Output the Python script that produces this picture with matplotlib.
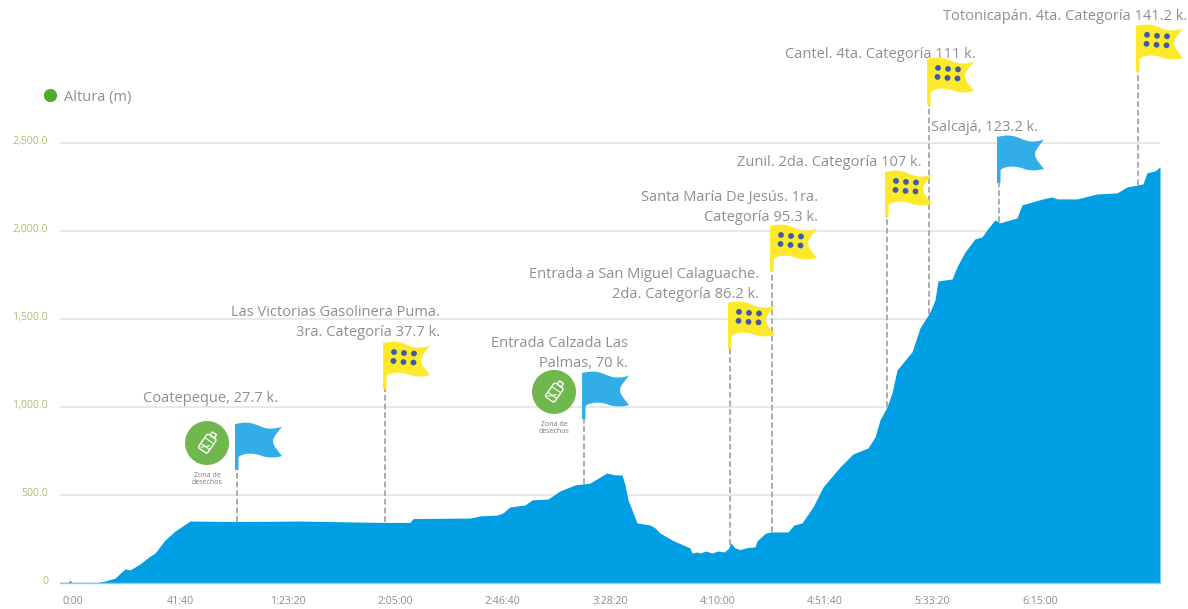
import numpy as np
import matplotlib
matplotlib.use("Agg")
import matplotlib.pyplot as plt
from matplotlib.path import Path
from matplotlib.patches import PathPatch, Circle, FancyBboxPatch, Rectangle
from matplotlib.lines import Line2D
from matplotlib.transforms import Affine2D, ScaledTranslation

# ---------- data ----------
profile_t = [-291, -105, -58, -12, 523, 756, 988, 1221, 1337, 1570, 1802, 1919, 2151, 2384, 2733,
             3779, 5291, 6453, 7267, 7849, 7919, 9244, 9477, 9872, 10011, 10174, 10523, 10686, 11058,
             11337, 11686, 12035, 12268, 12431, 12617, 12780, 12849, 12919, 13012, 13128, 13430,
             13547, 13663, 13942, 14361, 14408, 14524, 14593, 14733, 14872, 15012, 15151, 15244,
             15314, 15407, 15523, 15709, 15872, 15919, 16105, 16221, 16640, 16779, 16965, 17221,
             17453, 17849, 18151, 18500, 18663, 18779, 18942, 19058, 19175, 19523, 19709, 19942,
             20058, 20128, 20453, 20570, 20756, 20988, 21151, 21267, 21453, 21570, 21965, 22081,
             22570, 22779, 22895, 23360, 23826, 24291, 24523, 24895, 24988, 25174, 25291]
profile_h = [0, 0, 17, 0, 0, 11, 28, 80, 74, 108, 153, 170, 244, 295, 352,
             349, 352, 347, 344, 344, 366, 369, 381, 386, 398, 432, 443, 472, 477,
             523, 557, 568, 602, 625, 614, 614, 557, 472, 415, 341, 330,
             313, 284, 244, 199, 170, 176, 170, 182, 170, 182, 176, 193,
             227, 199, 190, 202, 205, 239, 281, 290, 290, 330, 341, 432,
             545, 659, 733, 767, 830, 926, 1000, 1080, 1210, 1313, 1449, 1540,
             1608, 1716, 1727, 1796, 1881, 1955, 1966, 2006, 2063, 2046, 2074, 2148,
             2182, 2193, 2182, 2182, 2210, 2216, 2250, 2267, 2330, 2341, 2364]

x_ticks = [0, 2500, 5000, 7500, 10000, 12500, 15000, 17500, 20000, 22500]
x_labels = ["0:00", "41:40", "1:23:20", "2:05:00", "2:46:40", "3:28:20", "4:10:00", "4:51:40", "5:33:20", "6:15:00"]
y_ticks = [0, 500, 1000, 1500, 2000, 2500]
y_labels = ["0", "500.0", "1,000.0", "1,500.0", "2,000.0", "2,500.0"]

flag_t = [3826, 7267, 11896, 15291, 16268, 18942, 19919, 21547, 24780]
flag_pole_bottom = [642, 1102, 932, 1330, 1767, 2074, 2716, 2273, 2904]
flag_kind = ["blue", "yellow", "blue", "yellow", "yellow", "yellow", "yellow", "blue", "yellow"]
waste_zone_flags = [0, 2]

label_text = ["Coatepeque, 27.7 k.",
              "Las Victorias Gasolinera Puma.\n3ra. Categoría 37.7 k.",
              "Entrada Calzada Las\nPalmas, 70 k.",
              "Entrada a San Miguel Calaguache.\n2da. Categoría 86.2 k.",
              "Santa María De Jesús. 1ra.\nCategoría 95.3 k.",
              "Zunil. 2da. Categoría 107 k.",
              "Cantel. 4ta. Categoría 111 k.",
              "Salcajá, 123.2 k.",
              "Totonicapán. 4ta. Categoría 141.2 k."]
label_x = [278, 440, 628, 759, 818, 922, 976, 931, 943]
label_y = [399, 322.5, 353.5, 284.5, 207.5, 163, 55, 127.5, 17]
label_ha = ["right", "right", "right", "right", "right", "right", "right", "left", "left"]

# ---------- figure ----------
W, H = 1188, 609
plt.rcParams["font.family"] = ["Open Sans", "DejaVu Sans"]
fig = plt.figure(figsize=(W / 100, H / 100), dpi=100)
ax = fig.add_axes([60 / W, (H - 583) / H, 1100 / W, 583 / H])
ax.set_xlim(-291, 25291)
ax.set_ylim(0, 3312)
ax.set_facecolor("none")

ax.fill_between(profile_t, profile_h, 0, color="#009fe3", lw=0, zorder=3)

ax.set_axisbelow(True)
ax.set_xticks(x_ticks, x_labels)
ax.set_yticks(y_ticks, y_labels)
ax.grid(axis="y", color="#e4e4e4", lw=1.2)
ax.tick_params(length=0)
ax.tick_params(axis="x", pad=9, labelsize=7.6, labelcolor="#8c8c8c")
ax.tick_params(axis="y", pad=8.6, labelsize=7.6, labelcolor="#a9c26f")
up = ScaledTranslation(0, 3 / 100, fig.dpi_scale_trans)
for lab in ax.get_yticklabels():
    lab.set_transform(lab.get_transform() + up)
for side in ["top", "left", "right"]:
    ax.spines[side].set_visible(False)
ax.spines["bottom"].set_color("#86cdf0")
ax.spines["bottom"].set_linewidth(1.0)
ax.spines["bottom"].set_zorder(4)

# pixel-space transform for decorations (origin top-left)
px = Affine2D().scale(1, -1).translate(0, H)

# dashed leader lines from pole bottom to the profile
base = np.interp(flag_t, profile_t, profile_h)
ax.vlines(flag_t, base, flag_pole_bottom, colors="#a6a6a6", linestyles=(0, (3.2, 1.6)), lw=1.3, zorder=2)

FLAG_V = [(0, 1), (6, 0), (10, -1), (15, 0), (22, 1), (27, 5), (33, 5.5), (39, 6), (43, 5), (47, 3.5),
          (43, 9), (38, 14), (38, 18), (38, 23), (43, 28), (47, 33),
          (41, 35), (33, 35), (27, 33), (21, 30.5), (10, 29), (3.5, 34),
          (3.5, 47), (0, 47), (0, 1)]
FLAG_C = [Path.MOVETO] + [Path.CURVE4] * 21 + [Path.LINETO, Path.LINETO, Path.CLOSEPOLY]
DOTS = [(11, 10), (21, 11), (31, 11.5), (10.5, 19), (20.5, 20), (30.5, 20.5)]
COL = {"blue": "#33ade8", "yellow": "#fde92c"}


def bottle(cx, cy):
    t = Affine2D().rotate_deg(35).translate(cx, cy) + px.frozen()
    white = dict(fill=False, ec="white", lw=1.0, transform=t, zorder=6, clip_on=False)
    fig.add_artist(FancyBboxPatch((-5.5, -9), 11, 17, boxstyle="round,pad=0,rounding_size=2", **white))
    fig.add_artist(Rectangle((-2.5, -13), 5, 4, **white))
    fig.add_artist(Line2D([-5.5, 5.5], [-4, -4], color="white", lw=0.8, transform=t, zorder=6))
    fig.add_artist(Line2D([-5.5, 5.5], [3, 3], color="white", lw=0.8, transform=t, zorder=6))
    fig.add_artist(Line2D([-3, 3], [6, 0], color="white", lw=0.8, transform=t, zorder=6))


for i, (t, pb, kind) in enumerate(zip(flag_t, flag_pole_bottom, flag_kind)):
    dx, dy = ax.transData.transform((t, pb))
    x0, y0 = dx - 2, H - dy - 47
    tr = Affine2D().translate(x0, y0) + px.frozen()
    fig.add_artist(PathPatch(Path(FLAG_V, FLAG_C), fc=COL[kind], ec="none", transform=tr, zorder=5))
    if kind == "yellow":
        for d in DOTS:
            fig.add_artist(Circle(d, 2.9, fc="#3f5aa6", ec="none", transform=tr, zorder=6))
    if i in waste_zone_flags:
        cx, cy = x0 - 28, y0 + 20
        fig.add_artist(Circle((cx, cy), 22, fc="#70b74e", ec="none", transform=px, zorder=5))
        bottle(cx, cy + 1)
        fig.text(cx, cy + 36, "Zona de\ndesechos", transform=px, ha="center", va="center",
                 fontsize=5.0, color="#7a7a7a", linespacing=1.0)

for s, x, y, ha in zip(label_text, label_x, label_y, label_ha):
    fig.text(x, y, s, transform=px, ha=ha, va="center", fontsize=10.55, color="#8f8f8f",
             linespacing=1.42, multialignment=ha)

handle = Line2D([], [], ls="none", marker="o", ms=8.5, color="#4cac2c", label="Altura (m)")
fig.legend(handles=[handle], loc="center left", bbox_to_anchor=(35 / W, 1 - 97 / H), frameon=False,
           fontsize=10.55, labelcolor="#8f8f8f", handletextpad=0.0, borderpad=0, borderaxespad=0)

fig.savefig("out.png", dpi=100)
